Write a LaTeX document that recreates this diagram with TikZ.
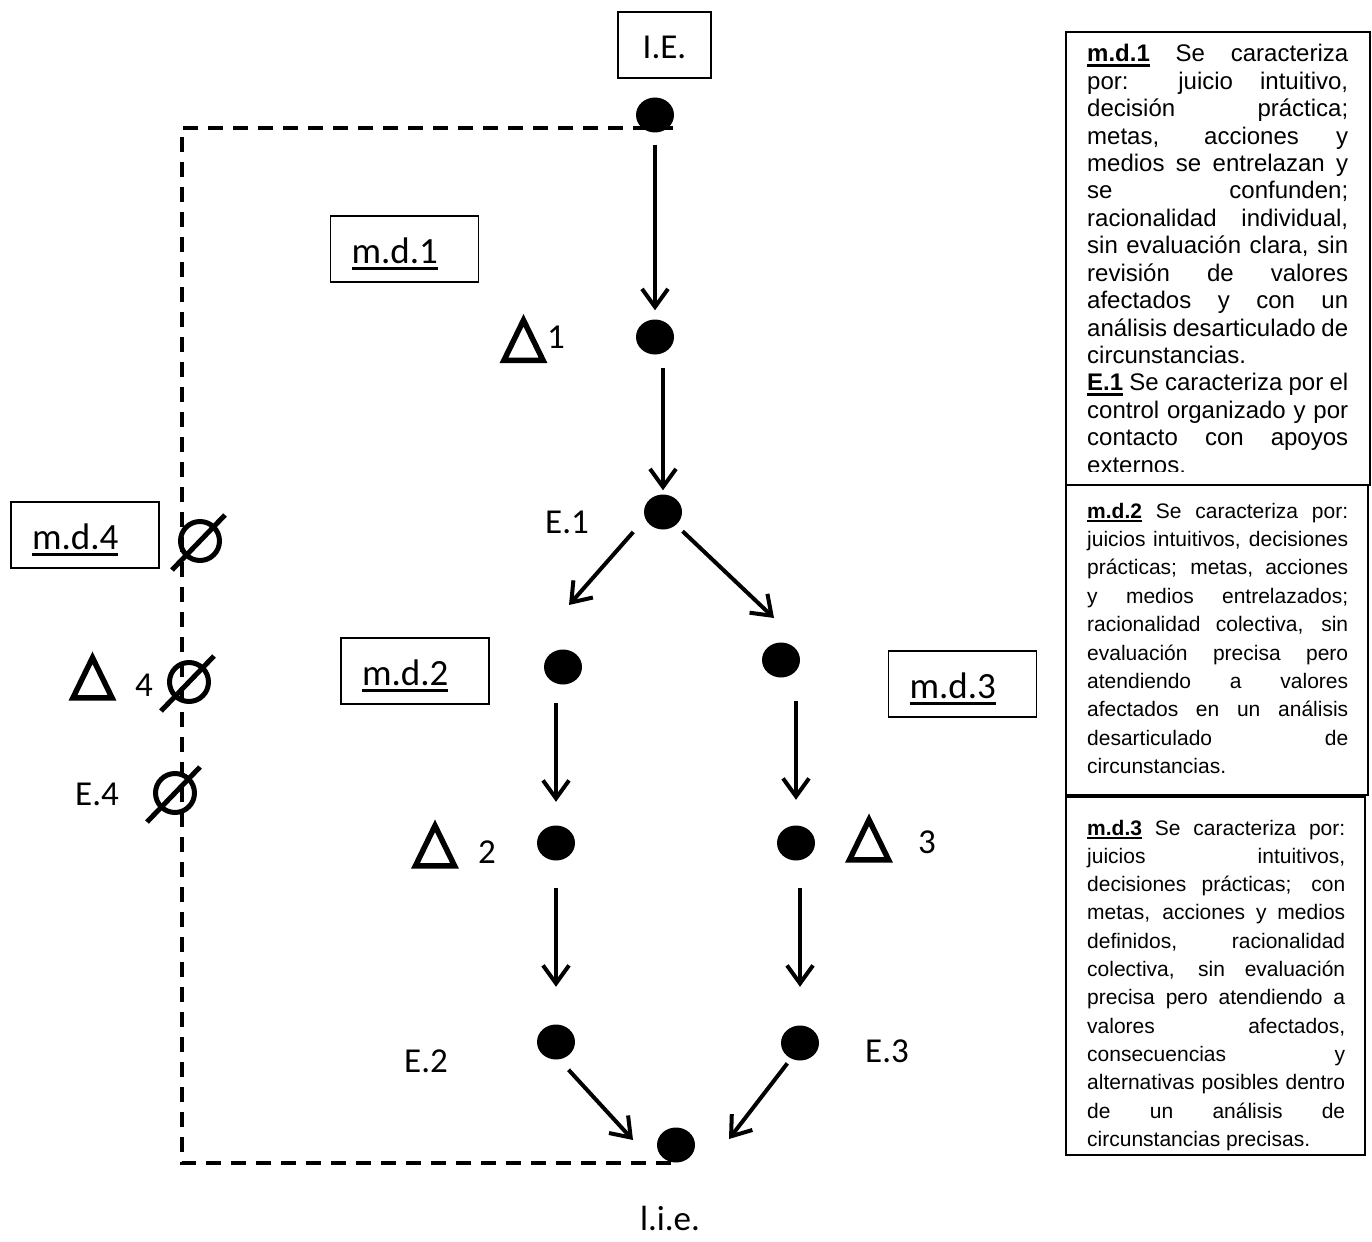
\documentclass[tikz,border=0pt]{standalone}
\usepackage{fontspec}
\setmainfont{Liberation Sans}
\newfontfamily\carl{Carlito}
\usetikzlibrary{arrows.meta,shapes.geometric}
\newcommand\ulin[1]{\setbox0\hbox{#1}\rlap{\rule[-0.2em]{\wd0}{0.1em}}\box0}
\tikzset{
  dot/.style={ellipse, fill=black, minimum width=38pt, minimum height=35pt, inner sep=0pt},
  arr/.style={line width=4pt, -{Straight Barb[length=18pt,width=26pt]}},
  dashline/.style={line width=4pt, dash pattern=on 15pt off 10pt},
  mdbox/.style={draw, line width=1.8pt, minimum width=148pt, minimum height=66pt, inner sep=0pt,
                text height=28pt, text depth=0pt, font=\carl\fontsize{37}{44}\selectfont},
  lab/.style={anchor=base west, inner sep=0pt, font=\carl\fontsize{35}{42}\selectfont},
  tri/.style={line width=5.5pt, line join=miter},
  txa/.style={anchor=base west, inner sep=0pt, font=\fontsize{24}{28}\selectfont},
  txb/.style={anchor=base west, inner sep=0pt, font=\fontsize{21}{25}\selectfont},
  deltasym/.pic={\draw[tri] (-19.5,21.75) -- (19.5,21.75) -- (0,-18.25) -- cycle;},
  nullsym/.pic={\draw[line width=5pt] (0,0) circle[radius=19.5];
                \draw[line width=5pt] (-28,29) -- (25,-26);}
}
\begin{document}
\begin{tikzpicture}[x=1pt,y=-1pt]
\fill[white] (0,0) rectangle (1372,1241);
\useasboundingbox (0,0) rectangle (1372,1241);

% ---- boxes with labels ----
\node[mdbox, minimum width=93pt, font=\carl\fontsize{35}{42}\selectfont] (ie) at (664.5,45) {I.E.};
\node[mdbox] (md1) at (404.5,249) {\makebox[106pt][l]{\ulin{m.d.1}}};
\node[mdbox] (md2) at (415,671) {\makebox[106pt][l]{\ulin{m.d.2}}};
\node[mdbox] (md3) at (962.5,684) {\makebox[106pt][l]{\ulin{m.d.3}}};
\node[mdbox] (md4) at (85,535) {\makebox[106pt][l]{\ulin{m.d.4}}};

% ---- dashed feedback line ----
\coordinate (dtop) at (673,128);
\coordinate (dcorner) at (182,128);
\coordinate (dbot) at (673,1163);
\draw[dashline] (dtop) -- (dcorner) |- (dbot);

% ---- dots ----
\node[dot] (d0) at (655,115) {};
\node[dot] (d1) at (655,337) {};
\node[dot] (e1) at (663,512) {};
\node[dot] (dl) at (563,667) {};
\node[dot] (dr) at (781,660) {};
\node[dot] (d2) at (556,843) {};
\node[dot] (d3) at (796,843) {};
\node[dot] (e2) at (556,1042) {};
\node[dot] (e3) at (800,1043) {};
\node[dot] (dend) at (676,1145) {};

% ---- arrows ----
\coordinate (a3e) at (569,605);
\coordinate (a4e) at (774,618);
\coordinate (a9e) at (633,1140);
\coordinate (a10e) at (729,1139);
\draw[arr, shorten <=12pt, shorten >=9pt] (d0.south) -- (d1.north);
\draw[arr, shorten <=13pt, shorten >=4pt] (e1 |- d1.south) -- (e1.north);
\draw[arr, shorten <=18pt] (e1.200) -- (a3e);
\draw[arr, shorten <=9pt] (e1.-45) -- (a4e);
\draw[arr, shorten <=18.5pt, shorten >=23.5pt] (d2 |- dl.south) -- (d2.north);
\draw[arr, shorten <=23.5pt, shorten >=25.5pt] (d3 |- dr.south) -- (d3.north);
\draw[arr, shorten <=27.5pt, shorten >=37.5pt] (d2.south) -- (d2 |- e2.north);
\draw[arr, shorten <=27.5pt, shorten >=38.5pt] (e3 |- d3.south) -- (e3.north);
\draw[arr, shorten <=14pt] (e2.-80) -- (a9e);
\draw[arr, shorten <=6pt] (e3.-120) -- (a10e);

% ---- triangles and null symbols ----
\pic at (523.5,338.5) {deltasym};
\pic at (435,844) {deltasym};
\pic at (869,838) {deltasym};
\pic at (92.5,676) {deltasym};
\pic at (200,541) {nullsym};
\pic at (189,682) {nullsym};
\pic at (175,793) {nullsym};

% ---- loose labels ----
\node[lab] (l1) at (547,348) {1};
\node[lab] (l2) at (478,863) {2};
\node[lab] (l3) at (918,853) {3};
\node[lab] (l4) at (135,696) {4};
\node[lab] (le1) at (545,533) {E.1};
\node[lab] (le2) at (404,1072) {E.2};
\node[lab] (le3) at (865,1062) {E.3};
\node[lab] (le4) at (75,805) {E.4};
\node[lab, anchor=base] (lie) at (670,1230) {l.i.e.};

% ---- right text boxes ----
\draw[line width=2pt] (1066,32) rectangle (1370,485);
\draw[line width=2pt] (1066,485) rectangle (1368,795);
\draw[line width=2pt] (1066,797) rectangle (1365,1155);

\begin{scope}
\clip (1066,32) rectangle (1370,471);
\foreach \t [count=\i] in {
  {\textbf{\ulin{m.d.1}} Se caracteriza},
  {por: juicio intuitivo,},
  {decisión práctica;},
  {metas, acciones y},
  {medios se entrelazan y},
  {se confunden;},
  {racionalidad individual,},
  {sin evaluación clara, sin},
  {revisión de valores},
  {afectados y con un},
  {análisis desarticulado de},
  {circunstancias.\hfill},
  {\textbf{\ulin{E.1}} Se caracteriza por el},
  {control organizado y por},
  {contacto con apoyos},
  {externos.\hfill}}
  \node[txa] (ta\i) at (1087,{62+27.4*(\i-1)}) {\makebox[261pt][s]{\t}};
\end{scope}

\foreach \t [count=\i] in {
  {\textbf{\ulin{m.d.2}} Se caracteriza por:},
  {juicios intuitivos, decisiones},
  {prácticas; metas, acciones},
  {y medios entrelazados;},
  {racionalidad colectiva, sin},
  {evaluación precisa pero},
  {atendiendo a valores},
  {afectados en un análisis},
  {desarticulado de},
  {circunstancias.\hfill}}
  \node[txb] (tb\i) at (1087,{518+28.4*(\i-1)}) {\makebox[261pt][s]{\t}};

\foreach \t [count=\i] in {
  {\textbf{\ulin{m.d.3}} Se caracteriza por:},
  {juicios intuitivos,},
  {decisiones prácticas; con},
  {metas, acciones y medios},
  {definidos, racionalidad},
  {colectiva, sin evaluación},
  {precisa pero atendiendo a},
  {valores afectados,},
  {consecuencias y},
  {alternativas posibles dentro},
  {de un análisis de},
  {circunstancias precisas.\hfill}}
  \node[txb] (tc\i) at (1087,{835+28.3*(\i-1)}) {\makebox[258pt][s]{\t}};
\end{tikzpicture}
\end{document}
